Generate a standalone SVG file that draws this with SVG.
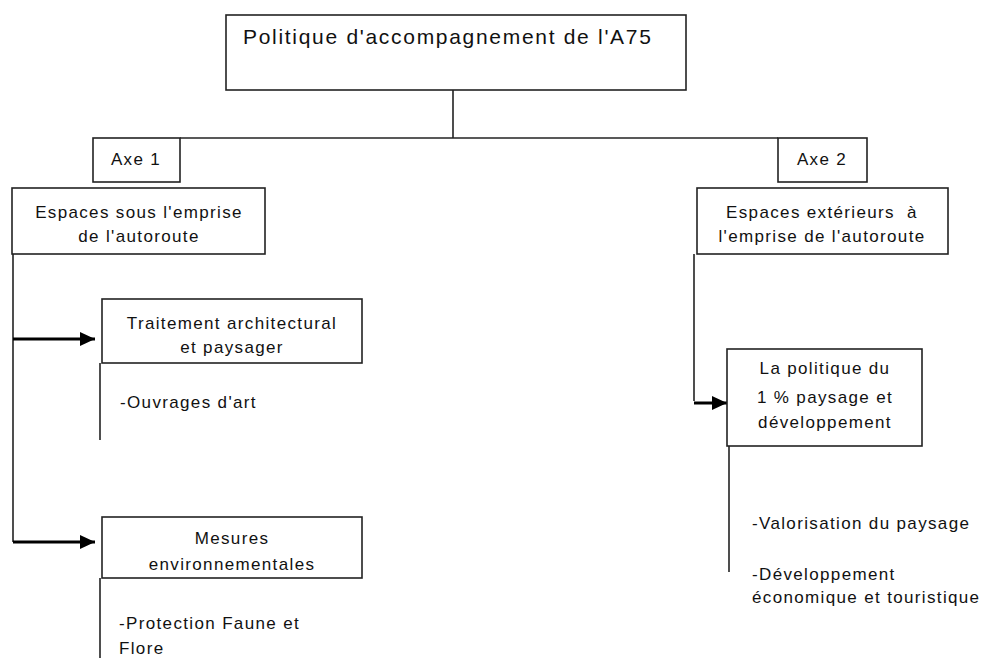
<svg xmlns="http://www.w3.org/2000/svg" width="982" height="658" viewBox="0 0 982 658">
<defs>
<style>
.box{fill:#fff;stroke:#222;stroke-width:1.6}
.ln{fill:none;stroke:#222;stroke-width:1.6}
.arr{fill:none;stroke:#000;stroke-width:3}
text{font-family:"Liberation Sans",Arial,sans-serif;font-size:17px;letter-spacing:1.35px;fill:#111;white-space:pre}
.c{text-anchor:middle}
.t{font-size:21px;letter-spacing:1.7px}
</style>
<marker id="ah" markerUnits="userSpaceOnUse" markerWidth="16" markerHeight="16" refX="15" refY="8" orient="auto">
<path d="M0,1 L15,8 L0,15 Z" fill="#000"/>
</marker>
</defs>
<rect width="982" height="658" fill="#fff"/>
<g id="connectors">
<line class="ln" x1="453" y1="90" x2="453" y2="138"/>
<line class="ln" x1="180" y1="138" x2="778" y2="138"/>
<line class="ln" x1="13" y1="254" x2="13" y2="542"/>
<line class="arr" x1="13" y1="339" x2="95" y2="339" marker-end="url(#ah)"/>
<line class="arr" x1="13" y1="542" x2="95" y2="542" marker-end="url(#ah)"/>
<line class="ln" x1="100" y1="363" x2="100" y2="440"/>
<line class="ln" x1="100" y1="578" x2="100" y2="658"/>
<line class="ln" x1="694" y1="254" x2="694" y2="401"/>
<line class="arr" x1="694" y1="403" x2="727" y2="403" stroke-width="4" marker-end="url(#ah)"/>
<line class="ln" x1="729" y1="446" x2="729" y2="572"/>
</g>
<g id="title">
<rect class="box" x="226" y="15" width="460" height="75"/>
<text class="t" x="243" y="44">Politique d'accompagnement de l'A75</text>
</g>
<g id="axe1">
<rect class="box" x="93" y="138" width="87" height="44"/>
<text class="c" x="136" y="165">Axe 1</text>
</g>
<g id="axe2">
<rect class="box" x="778" y="138" width="89" height="44"/>
<text class="c" x="822" y="165">Axe 2</text>
</g>
<g id="espaces-sous">
<rect class="box" x="12" y="188" width="253" height="66"/>
<text class="c" x="139" y="218">Espaces sous l'emprise</text>
<text class="c" x="139" y="242">de l'autoroute</text>
</g>
<g id="espaces-ext">
<rect class="box" x="697" y="188" width="251" height="66"/>
<text class="c" x="822" y="218">Espaces extérieurs  à</text>
<text class="c" x="822" y="242">l'emprise de l'autoroute</text>
</g>
<g id="traitement">
<rect class="box" x="102" y="299" width="260" height="64"/>
<text class="c" x="232" y="329">Traitement architectural</text>
<text class="c" x="232" y="353">et paysager</text>
<text x="120" y="408">-Ouvrages d'art</text>
</g>
<g id="mesures">
<rect class="box" x="102" y="517" width="260" height="61"/>
<text class="c" x="232" y="544">Mesures</text>
<text class="c" x="232" y="570">environnementales</text>
<text x="119" y="629">-Protection Faune et</text>
<text x="119" y="654">Flore</text>
</g>
<g id="politique">
<rect class="box" x="727" y="349" width="195" height="97"/>
<text class="c" x="825" y="374">La politique du</text>
<text class="c" x="825" y="403">1 % paysage et</text>
<text class="c" x="825" y="428">développement</text>
<text x="752" y="529">-Valorisation du paysage</text>
<text x="752" y="580">-Développement</text>
<text x="752" y="603">économique et touristique</text>
</g>
</svg>
